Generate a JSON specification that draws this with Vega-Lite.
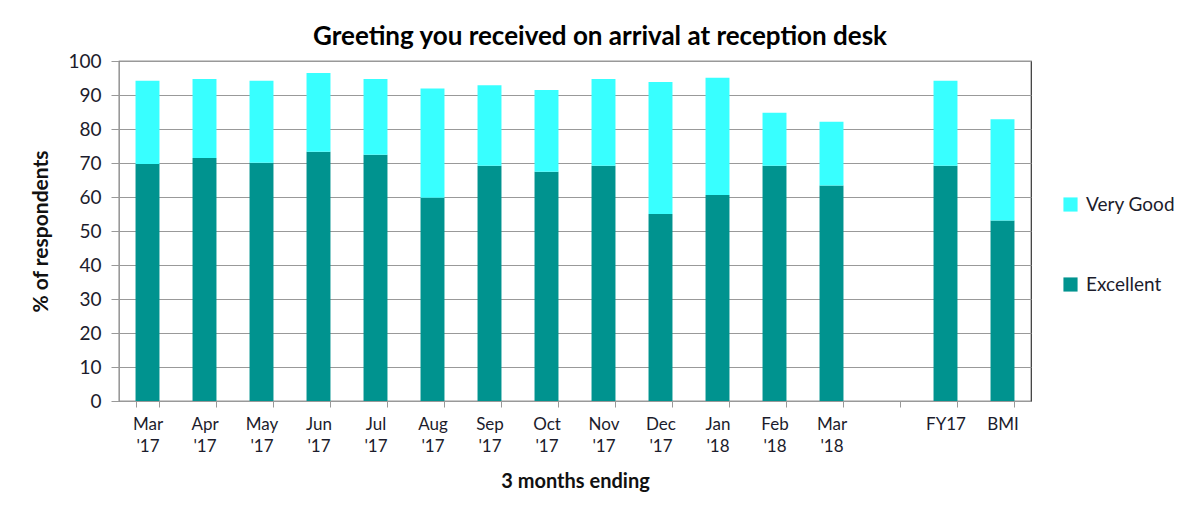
{
  "$schema": "https://vega.github.io/schema/vega-lite/v6.json",
  "autosize": "none",
  "padding": {"left": 119, "top": 61, "right": 168, "bottom": 116},
  "width": 912,
  "height": 340,
  "background": "white",
  "config": {
    "font": "Lato",
    "view": {"stroke": "#333333", "strokeWidth": 1.2},
    "axis": {"labelColor": "#1c1c2c", "titleColor": "#111111"}
  },
  "title": {
    "text": "Greeting you received on arrival at reception desk",
    "fontSize": 26,
    "fontWeight": "bold",
    "color": "#000000",
    "anchor": "middle",
    "dx": 25,
    "offset": 2
  },
  "data": {
    "values": [
      {"period": "Mar '17", "series": "Excellent", "value": 69.7},
      {"period": "Mar '17", "series": "Very Good", "value": 24.5},
      {"period": "Apr '17", "series": "Excellent", "value": 71.5},
      {"period": "Apr '17", "series": "Very Good", "value": 23.2},
      {"period": "May '17", "series": "Excellent", "value": 70.1},
      {"period": "May '17", "series": "Very Good", "value": 24.1},
      {"period": "Jun '17", "series": "Excellent", "value": 73.3},
      {"period": "Jun '17", "series": "Very Good", "value": 23.2},
      {"period": "Jul '17", "series": "Excellent", "value": 72.4},
      {"period": "Jul '17", "series": "Very Good", "value": 22.3},
      {"period": "Aug '17", "series": "Excellent", "value": 59.8},
      {"period": "Aug '17", "series": "Very Good", "value": 32.1},
      {"period": "Sep '17", "series": "Excellent", "value": 69.2},
      {"period": "Sep '17", "series": "Very Good", "value": 23.7},
      {"period": "Oct '17", "series": "Excellent", "value": 67.4},
      {"period": "Oct '17", "series": "Very Good", "value": 24.1},
      {"period": "Nov '17", "series": "Excellent", "value": 69.2},
      {"period": "Nov '17", "series": "Very Good", "value": 25.5},
      {"period": "Dec '17", "series": "Excellent", "value": 55.0},
      {"period": "Dec '17", "series": "Very Good", "value": 38.8},
      {"period": "Jan '18", "series": "Excellent", "value": 60.6},
      {"period": "Jan '18", "series": "Very Good", "value": 34.5},
      {"period": "Feb '18", "series": "Excellent", "value": 69.2},
      {"period": "Feb '18", "series": "Very Good", "value": 15.6},
      {"period": "Mar '18", "series": "Excellent", "value": 63.4},
      {"period": "Mar '18", "series": "Very Good", "value": 18.7},
      {"period": "FY17", "series": "Excellent", "value": 69.2},
      {"period": "FY17", "series": "Very Good", "value": 25.0},
      {"period": "BMI", "series": "Excellent", "value": 53.1},
      {"period": "BMI", "series": "Very Good", "value": 29.8}
    ]
  },
  "mark": {"type": "bar"},
  "encoding": {
    "x": {
      "field": "period",
      "type": "nominal",
      "scale": {
        "domain": ["Mar '17", "Apr '17", "May '17", "Jun '17", "Jul '17", "Aug '17", "Sep '17", "Oct '17", "Nov '17", "Dec '17", "Jan '18", "Feb '18", "Mar '18", "-", "FY17", "BMI"],
        "paddingInner": 0.58,
        "paddingOuter": 0.29
      },
      "axis": {
        "title": "3 months ending",
        "titleFontSize": 20,
        "titleFontWeight": "bold",
        "titlePadding": 17,
        "labelAngle": 0,
        "labelFontSize": 17,
        "labelLineHeight": 22,
        "labelPadding": 9,
        "labelExpr": "(!isValid(datum.value) || datum.value == '-') ? '' : split(datum.value, ' ')",
        "tickBand": "extent",
        "tickColor": "#999999",
        "tickSize": 6,
        "domainColor": "#999999",
        "grid": false
      }
    },
    "y": {
      "field": "value",
      "type": "quantitative",
      "stack": "zero",
      "scale": {"domain": [0, 100], "nice": false},
      "axis": {
        "title": "% of respondents",
        "titleFontSize": 21,
        "titleFontWeight": "bold",
        "titlePadding": 16,
        "values": [0, 10, 20, 30, 40, 50, 60, 70, 80, 90, 100],
        "labelFontSize": 19,
        "labelPadding": 10,
        "tickColor": "#999999",
        "tickSize": 8,
        "domainColor": "#999999",
        "gridColor": "#999999",
        "gridWidth": 1.2
      }
    },
    "color": {
      "field": "series",
      "type": "nominal",
      "scale": {"domain": ["Very Good", "Excellent"], "range": ["#38FFFF", "#00938F"]},
      "legend": {
        "title": null,
        "orient": "none",
        "legendX": 942,
        "legendY": 134,
        "symbolType": "square",
        "symbolSize": 200,
        "symbolStrokeWidth": 0,
        "labelFontSize": 19,
        "labelColor": "#1c1c2c",
        "labelOffset": 6,
        "rowPadding": 60
      }
    },
    "order": {"field": "series", "sort": "ascending"}
  }
}
